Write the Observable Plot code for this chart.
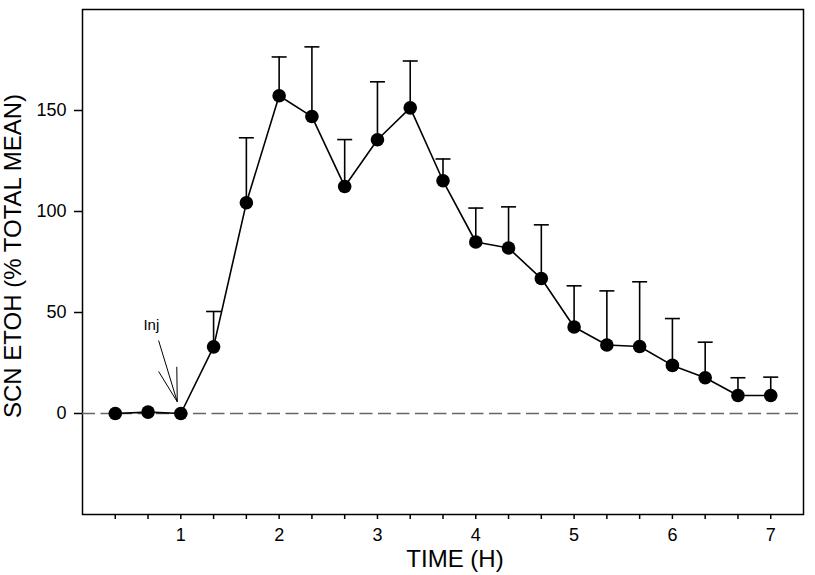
<!DOCTYPE html>
<html>
<head>
<meta charset="utf-8">
<script src="https://cdn.jsdelivr.net/npm/d3@7"></script>
<script src="https://cdn.jsdelivr.net/npm/@observablehq/plot@0.6"></script>
<style>
  html, body { margin: 0; padding: 0; background: #fff; }
  svg { font-family: "Liberation Sans", Arial, sans-serif; }
</style>
</head>
<body>
<div id="chart"></div>
<script>
// Time in hours (samples every 20 min)
const times = [1/3, 2/3, 1, 4/3, 5/3, 2, 7/3, 8/3, 3, 10/3, 11/3, 4, 13/3, 14/3, 5, 16/3, 17/3, 6, 19/3, 20/3, 7];
// SCN ETOH, % of total mean
const means = [0, 0.7, 0, 33, 104.3, 157.3, 147, 112.4, 135.5, 151.3, 115.2, 84.9, 81.9, 66.8, 42.8, 33.9, 33.2, 23.8, 17.7, 8.9, 8.9];
// upper error (SEM)
const sems = [0, 0, 0, 17.5, 32.2, 19.2, 34.5, 23.2, 28.7, 23.2, 10.8, 16.8, 20.4, 26.6, 20.4, 26.8, 32, 23.2, 17.6, 8.8, 9.1];

const yTicks = [0, 50, 100, 150];
const xTicks = d3.range(1, 22).map(i => i / 3);
const xLabelTicks = [1, 2, 3, 4, 5, 6, 7];

// Injection annotation (data coordinates)
const injLabel = [{x: 0.70, y: 41.4, text: "Inj"}];
const injLines = [
  {x1: 0.774, y1: 36.1, x2: 0.964, y2: 5.8},
  {x1: 0.774, y1: 20.8, x2: 0.964, y2: 5.8},
  {x1: 0.959, y1: 23.1, x2: 0.964, y2: 5.8}
];

const data = times.map((t, i) => ({t, mean: means[i], top: means[i] + sems[i]}));

const capSymbol = {
  draw(context, size) {
    const w = Math.sqrt(size / Math.PI);
    context.moveTo(-w, 0);
    context.lineTo(w, 0);
  }
};

const chart = Plot.plot({
  width: 815,
  height: 575,
  marginLeft: 82,
  marginRight: 12,
  marginTop: 9,
  marginBottom: 61,
  style: {fontFamily: "'Liberation Sans', Arial, sans-serif", fontSize: "18px", background: "#fff", color: "#000"},
  x: {domain: [0, 22/3]},
  y: {domain: [-50, 200]},
  marks: [
    Plot.frame({stroke: "#000", strokeWidth: 1.5}),
    Plot.ruleY([0], {stroke: "#666", strokeWidth: 1.5, strokeDasharray: "13,5.5"}),
    Plot.axisY({ticks: yTicks, tickSize: 8, tickPadding: 8, fontSize: 18, label: null, strokeWidth: 1.5}),
    Plot.axisX({ticks: xTicks, tickSize: 5, label: null, strokeWidth: 1.5, tickFormat: () => ""}),
    Plot.text(xLabelTicks, {x: d => d, frameAnchor: "bottom", dy: 21, fontSize: 18, fill: "#000", lineAnchor: "middle"}),
    Plot.ruleX(data, {x: "t", y1: "mean", y2: "top", stroke: "#000", strokeWidth: 1.6, filter: d => d.top > d.mean}),
    Plot.dot(data, {x: "t", y: "top", symbol: capSymbol, r: 7.5, stroke: "#000", strokeWidth: 1.6, fill: "none", filter: d => d.top > d.mean}),
    Plot.line(data, {x: "t", y: "mean", stroke: "#000", strokeWidth: 1.6}),
    Plot.dot(data, {x: "t", y: "mean", r: 6.8, fill: "#000", stroke: "none"}),
    Plot.link(injLines, {x1: "x1", y1: "y1", x2: "x2", y2: "y2", stroke: "#000", strokeWidth: 1}),
    Plot.text(injLabel, {x: "x", y: "y", text: "text", fontSize: 15, textAnchor: "middle", lineAnchor: "bottom", fill: "#000"}),
    Plot.text(["SCN ETOH (% TOTAL MEAN)"], {frameAnchor: "left", rotate: -90, dx: -69, dy: -6, fontSize: 24, fill: "#000", textAnchor: "middle"}),
    Plot.text(["TIME (H)"], {frameAnchor: "bottom", dx: 12, dy: 45, fontSize: 24, fill: "#000", textAnchor: "middle", lineAnchor: "middle"})
  ]
});
document.getElementById("chart").appendChild(chart);
</script>
</body>
</html>
